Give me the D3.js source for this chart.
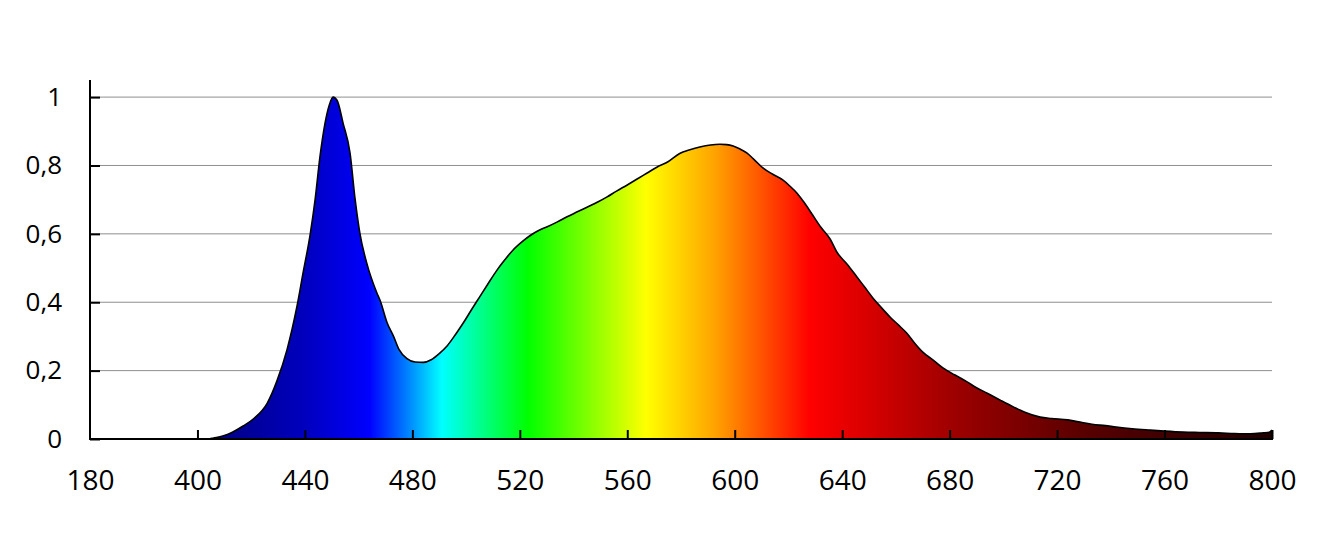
<!DOCTYPE html>
<meta charset="utf-8">
<style>
body { margin: 0; background: #fff; }
svg text { font-family: "Open Sans", sans-serif; fill: #000; }
.grid line { stroke: #8f8f8f; stroke-width: 1; }
</style>
<body>
<svg width="1331" height="542"></svg>
<script src="https://cdn.jsdelivr.net/npm/d3@7/dist/d3.min.js"></script>
<script>

// wavelength (nm) and relative intensity
var wavelength = [360,400,404,406,410,413,417,421,426,429.6,433.3,437,439.3,442,443.8,445.6,447.5,449,450.5,452,
  454.2,456.8,458.7,460.5,463,466.8,468,470.6,473,475,478,481,484,487,490,493,496,499,502,505,
  508,511.5,514.5,517.5,521,524,527,530,534,537.6,541,545,549,552.5,556,560,564,567.4,571,575,
  579.7,583,587,591,594.5,597,599.4,602,604.6,607.5,610.6,614,618,620.5,623.2,626,629,632,635.5,638,
  642,645.5,648.5,651.5,654.5,657.8,661,664,667,670,674,677.5,682,686.5,690,694,699,703.7,708,713.7,
  718,724,728,733,738,742,748,754.6,760,767,773,780,786,792,796.7,799,800];
var intensity = [0,0,0,0.003,0.01,0.02,0.038,0.06,0.105,0.17,0.26,0.386,0.485,0.6,0.7,0.825,0.924,0.975,1,0.99,
  0.924,0.836,0.7,0.6,0.515,0.427,0.405,0.34,0.3,0.262,0.235,0.225,0.224,0.232,0.25,0.273,0.305,0.34,0.378,0.415,
  0.452,0.494,0.525,0.553,0.578,0.596,0.61,0.62,0.635,0.65,0.663,0.678,0.693,0.708,0.725,0.743,0.762,0.778,0.795,0.81,
  0.836,0.845,0.854,0.86,0.862,0.861,0.857,0.848,0.836,0.815,0.792,0.775,0.757,0.74,0.719,0.69,0.655,0.62,0.585,0.547,
  0.51,0.474,0.443,0.412,0.385,0.357,0.333,0.31,0.28,0.254,0.23,0.208,0.187,0.167,0.15,0.134,0.113,0.094,0.078,0.064,
  0.06,0.056,0.05,0.043,0.039,0.035,0.03,0.026,0.023,0.02,0.019,0.018,0.016,0.015,0.018,0.02,0.026];

var xTicks = [360,400,440,480,520,560,600,640,680,720,760,800];
var xTickLabels = ["180","400","440","480","520","560","600","640","680","720","760","800"];
var yTicks = [0,0.2,0.4,0.6,0.8,1];
var yTickLabels = ["0","0,2","0,4","0,6","0,8","1"];

// spectrum colours along the wavelength axis
var stopNm = [400,440,464,478,491,523,567,592,628,680,729,800];
var stopColor = ["rgb(0,0,120)","rgb(0,0,190)","rgb(0,0,255)","rgb(0,128,255)","rgb(0,255,255)","rgb(0,255,0)",
  "rgb(255,255,0)","rgb(255,165,0)","rgb(255,0,0)","rgb(160,0,0)","rgb(90,0,0)","rgb(30,0,0)"];

var data = wavelength.map(function(w, i){ return {w: w, v: intensity[i]}; });

var svg = d3.select("svg");
var mLeft = 90, mRight = 1272, mTop = 80, mBottom = 439;

var x = d3.scaleLinear().domain([360, 800]).range([mLeft, mRight]);
var y = d3.scaleLinear().domain([0, 1.05]).range([mBottom, mTop]);

var grad = svg.append("defs").append("linearGradient")
  .attr("id", "spectrum").attr("gradientUnits", "userSpaceOnUse")
  .attr("x1", x(360)).attr("x2", x(800)).attr("y1", 0).attr("y2", 0);
grad.selectAll("stop").data(stopNm).enter().append("stop")
  .attr("offset", function(d){ return (x(d) - x(360)) / (x(800) - x(360)); })
  .attr("stop-color", function(d, i){ return stopColor[i]; });

// gridlines
svg.append("g").attr("class", "grid")
  .selectAll("line").data(yTicks.slice(1)).enter().append("line")
  .attr("x1", mLeft).attr("x2", mRight)
  .attr("y1", function(d){ return y(d); }).attr("y2", function(d){ return y(d); });

var area = d3.area().curve(d3.curveMonotoneX)
  .x(function(d){ return x(d.w); }).y0(y(0)).y1(function(d){ return y(d.v); });
var line = d3.line().curve(d3.curveMonotoneX)
  .x(function(d){ return x(d.w); }).y(function(d){ return y(d.v); });

svg.append("path").datum(data).attr("d", area).attr("fill", "url(#spectrum)");
svg.append("path").datum(data).attr("d", line)
  .attr("fill", "none").attr("stroke", "#000").attr("stroke-width", 1.6).attr("stroke-linejoin", "round");
// closing edge at 800
svg.append("line").attr("x1", x(800)).attr("x2", x(800))
  .attr("y1", y(intensity[intensity.length-1])).attr("y2", y(0))
  .attr("stroke", "#000").attr("stroke-width", 2);

var xAxis = d3.axisBottom(x).tickValues(xTicks).tickSize(-9).tickPadding(28)
  .tickFormat(function(d, i){ return xTickLabels[i]; });
var gx = svg.append("g").attr("transform", "translate(0," + mBottom + ")").call(xAxis);
gx.select(".domain").attr("stroke", "#000").attr("stroke-width", 2).attr("d", "M" + mLeft + ",0H" + (mRight + 1));
gx.selectAll(".tick line").attr("stroke", "#000").attr("stroke-width", 2);
gx.selectAll(".tick").filter(function(d){ return d === 360; }).select("line").remove();
gx.selectAll("text").attr("font-size", 28).attr("font-family", "Open Sans").attr("dy", "0.71em").attr("y", 31);

var yAxis = d3.axisLeft(y).tickValues(yTicks).tickSize(-10).tickPadding(28)
  .tickFormat(function(d, i){ return yTickLabels[i]; });
var gy = svg.append("g").attr("transform", "translate(" + mLeft + ",0)").call(yAxis);
gy.select(".domain").attr("stroke", "#000").attr("stroke-width", 2).attr("d", "M0," + mTop + "V" + (mBottom + 1));
gy.selectAll(".tick line").attr("stroke", "#000").attr("stroke-width", 2);
gy.selectAll("text").attr("font-size", 26).attr("font-family", "Open Sans").attr("x", -28);

</script>
</body>
